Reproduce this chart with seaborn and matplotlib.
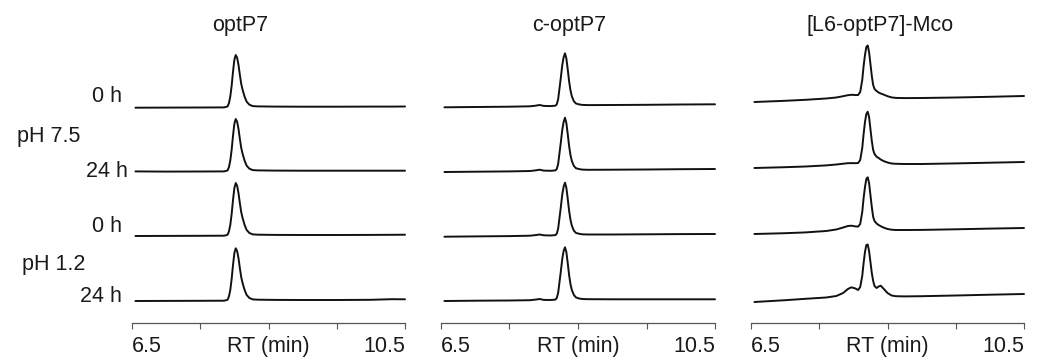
import numpy as np
import pandas as pd
import matplotlib
matplotlib.use("Agg")
import matplotlib.pyplot as plt
import seaborn as sns

# ---------- DATA (signal in arbitrary units) ----------
panel_titles = ["optP7", "c-optP7", "[L6-optP7]-Mco"]
trace_names = ["pH 7.5 / 0 h", "pH 7.5 / 24 h", "pH 1.2 / 0 h", "pH 1.2 / 24 h"]
tick_values = [6.5, 7.5, 8.5, 9.5, 10.5]
tick_labels = ["6.5", "", "RT (min)", "", "10.5"]

# optP7
rt_optp7 = [6.55, 7.0, 7.5, 7.85, 7.90, 7.92, 7.94, 7.96, 7.98, 8.00, 8.02, 8.04, 8.06,
            8.08, 8.10, 8.12, 8.15, 8.18, 8.22, 8.27, 8.35, 8.6, 9.0, 9.5, 10.0, 10.3, 10.5]
optp7_ph75_0h = [0, 0.1, 0.2, 0.3, 1.2, 4.5, 11, 22, 36, 48, 52.7, 50, 43,
                 33, 24, 18, 11, 6, 3, 1.6, 1.3, 1.1, 1.0, 1.0, 1.1, 1.1, 1.2]
optp7_ph75_24h = [0.3, 0.1, 0.2, 0.3, 1.2, 4.5, 11, 22, 36, 48, 52.7, 50, 43,
                  33, 24, 18, 11, 6, 3, 1.6, 1.3, 1.1, 1.0, 1.0, 1.0, 1.0, 1.0]
optp7_ph12_0h = [0, 0.1, 0.2, 0.3, 1.2, 4.5, 11, 22, 36, 48, 53, 50.3, 43,
                 33, 24, 18, 11, 6, 3, 1.6, 1.3, 1.1, 1.0, 1.0, 1.1, 1.2, 1.3]
optp7_ph12_24h = [0, 0.1, 0.2, 0.3, 1.2, 4.5, 11, 22, 36, 48, 52.7, 50, 43,
                  33, 24, 18, 11, 6, 3, 1.6, 1.3, 1.1, 1.0, 1.0, 1.2, 1.8, 1.7]

# c-optP7
rt_coptp7 = [6.55, 7.0, 7.5, 7.80, 7.88, 7.94, 8.00, 8.10, 8.17, 8.19, 8.21, 8.23, 8.25,
             8.27, 8.29, 8.31, 8.33, 8.35, 8.37, 8.39, 8.41, 8.44, 8.47, 8.51, 8.56, 8.65,
             9.0, 9.5, 10.0, 10.5]
coptp7_ph75_0h = [0, 0.3, 0.6, 1.0, 1.6, 2.3, 1.4, 1.2, 1.6, 3, 8, 19, 30,
                  42, 50, 54, 49, 38, 26, 17, 11, 6, 3.8, 3, 2.4, 2.2,
                  2.3, 2.5, 2.8, 3.0]
coptp7_ph75_24h = [0, 0.3, 0.6, 1.0, 1.6, 2.3, 1.4, 1.2, 1.6, 3, 8, 19, 30,
                   42, 50, 54.3, 49, 38, 26, 17, 11, 6, 3.8, 3, 2.4, 2.2,
                   2.3, 2.5, 2.8, 3.0]
coptp7_ph12_0h = [0, 0.3, 0.6, 1.0, 1.6, 2.2, 1.4, 1.2, 1.6, 3, 8, 19, 30,
                  42, 50, 54, 49, 38, 26, 17, 11, 6, 3.8, 3, 2.4, 2.2,
                  2.2, 2.4, 2.6, 2.7]
coptp7_ph12_24h = [0, 0.3, 0.5, 0.8, 1.4, 2.0, 1.1, 1.0, 1.4, 3, 8, 19, 30,
                   42, 50, 53.7, 49, 38, 26, 17, 11, 6, 3.6, 2.6, 2.0, 1.8,
                   1.7, 1.7, 1.7, 1.7]

# [L6-optP7]-Mco
rt_mco = [6.55, 7.0, 7.3, 7.6, 7.75, 7.85, 7.92, 7.97, 8.03, 8.07, 8.10, 8.13, 8.15, 8.17,
          8.19, 8.21, 8.23, 8.25, 8.27, 8.29, 8.31, 8.34, 8.37, 8.40, 8.44, 8.50, 8.56,
          8.62, 8.75, 9.0, 9.5, 10.0, 10.5]
mco_ph75_0h = [0, 1.2, 2.2, 3.5, 4.5, 5.8, 6.8, 7.2, 7.0, 7.0, 10, 22, 36, 47,
               55, 56.5, 50, 38, 26, 17, 13, 11, 9.5, 8.5, 7.5, 5.8, 4.6,
               4.1, 3.9, 4.0, 4.5, 5.2, 6.0]
mco_ph75_24h = [0, 0.8, 1.5, 2.6, 3.5, 4.3, 4.8, 4.9, 4.8, 5.0, 8, 20, 34, 46,
                54, 56.3, 51, 39, 27, 18, 14, 11.3, 10, 8.5, 7, 5.5, 4.5,
                4.2, 4.0, 4.0, 4.6, 5.3, 6.0]
mco_ph12_0h = [0, 0.8, 1.6, 3.0, 4.5, 6.5, 8.0, 8.3, 7.6, 7.4, 10, 22, 36, 47,
               55, 56.7, 51, 39, 27, 17, 13, 10.5, 9.0, 7.8, 6.5, 5.0, 4.3,
               4.0, 4.0, 4.1, 4.7, 5.4, 6.0]
mco_ph12_24h = [0, 1.8, 3.2, 4.5, 6.0, 9.0, 13.0, 14.7, 13.5, 12.0, 15, 26, 39, 50,
                57, 57.5, 51, 40, 29, 21, 16, 14, 15.5, 16.3, 13.5, 9, 6.5,
                5.8, 5.6, 5.8, 6.5, 7.3, 8.0]

panels = [
    (rt_optp7, [optp7_ph75_0h, optp7_ph75_24h, optp7_ph12_0h, optp7_ph12_24h]),
    (rt_coptp7, [coptp7_ph75_0h, coptp7_ph75_24h, coptp7_ph12_0h, coptp7_ph12_24h]),
    (rt_mco, [mco_ph75_0h, mco_ph75_24h, mco_ph12_0h, mco_ph12_24h]),
]

# ---------- LAYOUT (pixels) ----------
W, H = 1038, 359
axis_left_px = [132, 441, 751]
axis_width_px = [273, 274, 273]
axis_bottom_px = 323
axis_top_px = 33
stack_offsets = [[215.3, 151.3, 87, 22], [215.7, 151, 86.3, 22], [221, 155, 89, 21]]
title_x_px = [240, 569, 880]

LINE = "#111111"
TEXT = "#1a1a1a"
AXC = "#555555"
FS = 15.5

sns.set_style("white")
plt.rcParams["font.family"] = ["Liberation Sans", "DejaVu Sans"]

fig = plt.figure(figsize=(W / 100, H / 100), dpi=100)

for i, (rt, traces) in enumerate(panels):
    ax = fig.add_axes([axis_left_px[i] / W, (H - axis_bottom_px) / H,
                       axis_width_px[i] / W, (axis_bottom_px - axis_top_px) / H])
    for j, sig in enumerate(traces):
        df = pd.DataFrame({"RT": rt, "signal": np.array(sig) + stack_offsets[i][j]})
        sns.lineplot(data=df, x="RT", y="signal", ax=ax, color=LINE, lw=1.4,
                     estimator=None, sort=False, clip_on=False)
    ax.set_xlim(6.5, 10.5)
    ax.set_ylim(0, axis_bottom_px - axis_top_px)
    ax.set_xlabel("")
    ax.set_ylabel("")
    ax.set_yticks([])
    for s in ["left", "top", "right"]:
        ax.spines[s].set_visible(False)
    ax.spines["bottom"].set_color(AXC)
    ax.spines["bottom"].set_linewidth(0.9)
    ax.set_xticks(tick_values)
    ax.set_xticklabels(tick_labels, fontsize=FS, color=TEXT)
    ax.tick_params(axis="x", bottom=True, direction="out", length=4.5, width=0.8,
                   color=AXC, pad=5)
    labs = ax.get_xticklabels()
    labs[0].set_ha("left")
    labs[-1].set_ha("right")
    ax.patch.set_alpha(0)
    fig.text(title_x_px[i] / W, 1 - 31 / H, panel_titles[i], ha="center", va="baseline",
             fontsize=FS, color=TEXT)

# left-hand condition labels
side_labels = [
    ("0 h", 121.7, 102, "right"),
    ("pH 7.5", 16.7, 142, "left"),
    ("24 h", 127.7, 177, "right"),
    ("0 h", 121.7, 232, "right"),
    ("pH 1.2", 21.7, 270, "left"),
    ("24 h", 121.7, 302, "right"),
]
for txt, x, y, ha in side_labels:
    fig.text(x / W, 1 - y / H, txt, ha=ha, va="baseline", fontsize=FS, color=TEXT)

fig.savefig("out.png", dpi=100)
